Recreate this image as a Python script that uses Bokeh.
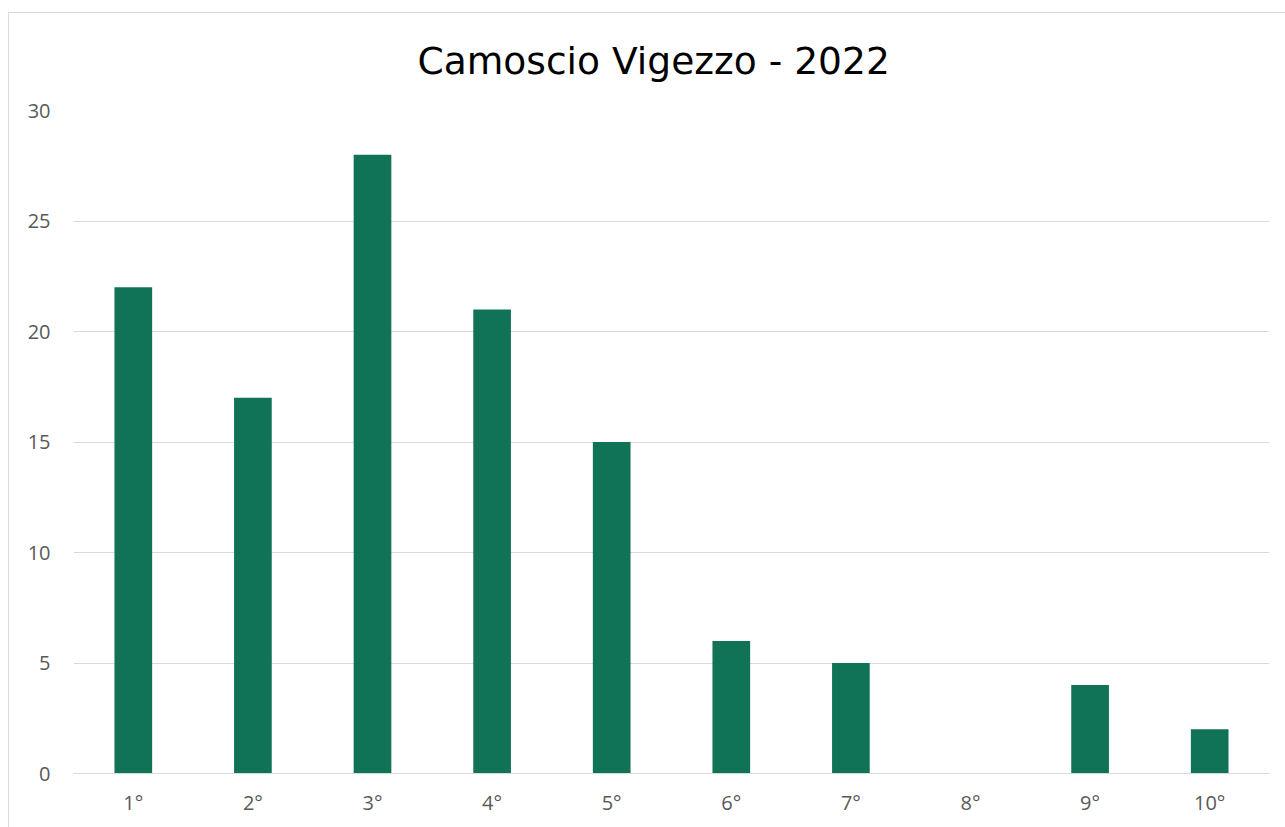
from bokeh.plotting import figure
from bokeh.embed import file_html
from bokeh.resources import INLINE
from bokeh.models import FixedTicker

categories = ["1°", "2°", "3°", "4°", "5°", "6°", "7°", "8°", "9°", "10°"]
counts = [22, 17, 28, 21, 15, 6, 5, 0, 4, 2]
y_ticks = [0, 5, 10, 15, 20, 25, 30]

p = figure(x_range=categories, y_range=(0, 30), width=1277, height=815,
           output_backend="svg", toolbar_location=None,
           title="Camoscio Vigezzo - 2022",
           min_border_left=64, min_border_right=17, min_border_top=96, min_border_bottom=55)
p.styles = {"border-top": "1px solid #d9d9d9", "border-left": "1px solid #d9d9d9",
            "margin-top": "12px", "margin-left": "8px"}
p.x_range.range_padding = 0
p.outline_line_color = None

p.vbar(x=categories, top=counts, width=0.315, color="#107256", line_color=None)

p.title.align = "left"
p.title.offset = 344
p.title.text_font = "DejaVu Sans"
p.title.text_font_size = "37.6px"
p.title.text_font_style = "normal"
p.title.text_color = "#000000"
p.title.vertical_align = "top"
p.title.standoff = 51

p.yaxis.ticker = FixedTicker(ticks=y_ticks)
p.yaxis.axis_line_color = None
p.yaxis.major_tick_line_color = None
p.yaxis.minor_tick_line_color = None
p.yaxis.major_label_text_font = "Open Sans"
p.yaxis.major_label_text_font_size = "20px"
p.yaxis.major_label_text_color = "#595959"
p.yaxis.major_label_standoff = 17

p.xaxis.axis_line_color = "#d9d9d9"
p.xaxis.major_tick_line_color = None
p.xaxis.major_label_text_font = "Open Sans"
p.xaxis.major_label_text_font_size = "20px"
p.xaxis.major_label_text_color = "#595959"
p.xaxis.major_label_standoff = 9

p.xgrid.grid_line_color = None
p.ygrid.grid_line_color = "#d9d9d9"
p.ygrid.grid_line_width = 1

open("out.html", "w").write(file_html(p, INLINE))
